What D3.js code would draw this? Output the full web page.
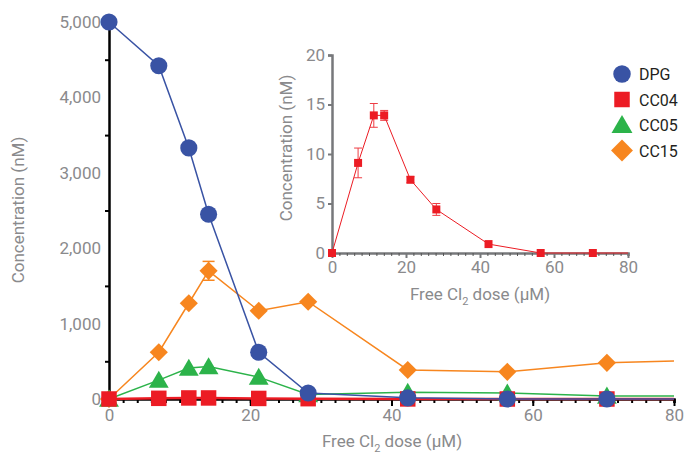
<!DOCTYPE html>
<html>
<head>
<meta charset="utf-8">
<script src="https://cdn.jsdelivr.net/npm/d3@7"></script>
<style>
  body { margin: 0; background: #fff; }
  text { font-family: Roboto, "Open Sans", sans-serif; }
</style>
</head>
<body>
<div id="chart"></div>
<script>
// doses in µM (last one falls outside the axis and is clipped)
var doses = [0, 7.05, 11.3, 14.1, 21.2, 28.2, 42.3, 56.4, 70.5, 84.6];

var dpgValues  = [5000, 4420, 3330, 2450, 620, 80, 15, 0, 0, 0];
var cc04Values = [0, 9.1, 13.9, 13.9, 7.4, 4.4, 0.9, 0, 0, 0];
var cc05Values = [0, 250, 410, 430, 290, 60, 90, 80, 40, 40];
var cc15Values = [0, 620, 1270, 1700, 1170, 1290, 385, 360, 480, 517];

var cc15Err = [0, 30, 40, 125, 40, 40, 30, 30, 30, 0];
var cc04Err = [0, 1.5, 1.2, 0.5, 0.3, 0.6, 0.15, 0, 0, 0];

var seriesNames = ["DPG", "CC04", "CC05", "CC15"];
var mainTicksY = [0, 1000, 2000, 3000, 4000, 5000];
var mainTicksX = [0, 20, 40, 60, 80];
var insetTicksY = [0, 5, 10, 15, 20];

var W = 686, H = 457;
var colors = { DPG: "#3953a4", CC04: "#ec1c24", CC05: "#2cb34a", CC15: "#f7861f" };
var shapes = { DPG: d3.symbolCircle, CC04: d3.symbolSquare, CC05: d3.symbolTriangle, CC15: d3.symbolSquare };
var rotate = { CC15: 45 };
var tickGrey = "#8a8a8c";

var svg = d3.select("#chart").append("svg")
  .attr("width", W).attr("height", H);

// ---------- main chart ----------
var x = d3.scaleLinear().domain([0, 80]).range([109, 674]);
var y = d3.scaleLinear().domain([0, 5000]).range([399, 22]);

svg.append("clipPath").attr("id", "mainClip")
  .append("rect").attr("x", 90).attr("y", 0).attr("width", 584).attr("height", 420);

// axes
var gx = svg.append("g").attr("transform", "translate(0,399)");
gx.call(d3.axisBottom(x).tickValues(d3.range(0, 81, 2)).tickSize(4).tickFormat(""));
gx.call(function(g) {
  g.selectAll(".tick line").attr("stroke", "#000").attr("stroke-width", 2);
  g.select(".domain").attr("stroke", "#000").attr("stroke-width", 2.5);
});
var gx2 = svg.append("g").attr("transform", "translate(0,399)");
gx2.call(d3.axisBottom(x).tickValues(mainTicksX).tickSize(7).tickPadding(3));
gx2.select(".domain").remove();
gx2.selectAll(".tick line").attr("stroke", "#000").attr("stroke-width", 2);
gx2.selectAll(".tick text").attr("fill", tickGrey).style("font-size", "17px");

var gy = svg.append("g").attr("transform", "translate(109,0)");
gy.call(d3.axisLeft(y).tickValues(d3.range(500, 5000, 1000)).tickSize(4).tickFormat(""));
gy.select(".domain").attr("stroke", "#000").attr("stroke-width", 2.5);
gy.selectAll(".tick line").attr("stroke", "#000").attr("stroke-width", 2);
var gy2 = svg.append("g").attr("transform", "translate(109,0)");
gy2.call(d3.axisLeft(y).tickValues(mainTicksY).tickSize(0).tickPadding(8).tickFormat(d3.format(",")));
gy2.select(".domain").remove();
gy2.selectAll(".tick text").attr("fill", tickGrey).style("font-size", "17px");

svg.append("text")
  .attr("transform", "translate(24,210) rotate(-90)")
  .attr("text-anchor", "middle")
  .attr("fill", tickGrey).style("font-size", "17px")
  .text("Concentration (nM)");

function doseTitle(g, cx, cy) {
  var t = g.append("text").attr("x", cx).attr("y", cy)
    .attr("text-anchor", "middle").attr("fill", tickGrey).style("font-size", "17px");
  t.append("tspan").text("Free Cl");
  t.append("tspan").attr("dy", 5).style("font-size", "11px").text("2");
  t.append("tspan").attr("dy", -5).text(" dose (µM)");
}
doseTitle(svg, 392, 447);

var mainData = { DPG: dpgValues, CC04: cc04Values, CC05: cc05Values, CC15: cc15Values };
var errs = { CC15: cc15Err };

var plot = svg.append("g").attr("clip-path", "url(#mainClip)");
var line = d3.line().x(function(d) { return x(d[0]); }).y(function(d) { return y(d[1]); });
var markSize = { DPG: 230, CC04: 240, CC05: 170, CC15: 165 };

["CC15", "CC05", "CC04", "DPG"].forEach(function(name) {
  var pts = doses.map(function(d, i) { return [d, mainData[name][i], errs[name] ? errs[name][i] : 0]; });
  plot.append("path").datum(pts)
    .attr("d", line).attr("fill", "none")
    .attr("stroke", colors[name]).attr("stroke-width", name == "CC04" ? 2.5 : 1.5);
  if (errs[name]) {
    var eb = plot.append("g").selectAll("g").data(pts.filter(function(p) { return y(p[1] - p[2]) - y(p[1] + p[2]) > 14; }))
      .enter().append("g").attr("stroke", colors[name]).attr("stroke-width", 1.5);
    eb.append("line").attr("x1", function(p) { return x(p[0]); }).attr("x2", function(p) { return x(p[0]); })
      .attr("y1", function(p) { return y(p[1] - p[2]); }).attr("y2", function(p) { return y(p[1] + p[2]); });
    [-1, 1].forEach(function(s) {
      eb.append("line").attr("x1", function(p) { return x(p[0]) - 6; }).attr("x2", function(p) { return x(p[0]) + 6; })
        .attr("y1", function(p) { return y(p[1] + s * p[2]); }).attr("y2", function(p) { return y(p[1] + s * p[2]); });
    });
  }
  plot.append("g").selectAll("path").data(pts.slice(0, 9)).enter().append("path")
    .attr("transform", function(p) {
      return "translate(" + x(p[0]) + "," + (y(p[1]) + (name == "CC05" ? 2 : 0)) + ")" +
        (rotate[name] ? " rotate(" + rotate[name] + ")" : "");
    })
    .attr("d", d3.symbol().type(shapes[name]).size(markSize[name]))
    .attr("fill", colors[name]);
});

// ---------- inset ----------
var ix = d3.scaleLinear().domain([0, 80]).range([332, 628]);
var iy = d3.scaleLinear().domain([0, 20]).range([253, 55]);
var insetGrey = "#77787b";

svg.append("clipPath").attr("id", "insetClip")
  .append("rect").attr("x", 320).attr("y", 40).attr("width", 308).attr("height", 225);

var igx = svg.append("g").attr("transform", "translate(0,253)");
igx.call(d3.axisBottom(ix).tickValues(d3.range(0, 81, 2)).tickSize(3).tickFormat(""));
igx.select(".domain").attr("stroke", insetGrey).attr("stroke-width", 2.5);
igx.selectAll(".tick line").attr("stroke", "#555").attr("stroke-width", 1);
var igx2 = svg.append("g").attr("transform", "translate(0,253)");
igx2.call(d3.axisBottom(ix).tickValues(mainTicksX).tickSize(5).tickPadding(3));
igx2.select(".domain").remove();
igx2.selectAll(".tick line").attr("stroke", insetGrey).attr("stroke-width", 2);
igx2.selectAll(".tick text").attr("fill", tickGrey).style("font-size", "17px");

var igy = svg.append("g").attr("transform", "translate(332,0)");
igy.call(d3.axisLeft(iy).tickValues(insetTicksY).tickSize(4).tickPadding(3));
igy.select(".domain").attr("stroke", insetGrey).attr("stroke-width", 2.5);
igy.selectAll(".tick line").attr("stroke", insetGrey).attr("stroke-width", 2);
igy.selectAll(".tick text").attr("fill", tickGrey).style("font-size", "17px");

svg.append("text")
  .attr("transform", "translate(292,148) rotate(-90)")
  .attr("text-anchor", "middle")
  .attr("fill", tickGrey).style("font-size", "17px")
  .text("Concentration (nM)");
doseTitle(svg, 480, 300);

var iline = d3.line().x(function(d) { return ix(d[0]); }).y(function(d) { return iy(d[1]); });
var ipts = doses.map(function(d, i) { return [d, cc04Values[i], cc04Err[i]]; });
var iplot = svg.append("g").attr("clip-path", "url(#insetClip)");
iplot.append("path").datum(ipts).attr("d", iline).attr("fill", "none")
  .attr("stroke", colors.CC04).attr("stroke-width", 1);
var ieb = iplot.append("g").selectAll("g").data(ipts.filter(function(p) { return p[2] > 0.2; }))
  .enter().append("g").attr("stroke", colors.CC04).attr("stroke-width", 1).attr("opacity", 0.85);
ieb.append("line").attr("x1", function(p) { return ix(p[0]); }).attr("x2", function(p) { return ix(p[0]); })
  .attr("y1", function(p) { return iy(p[1] - p[2]); }).attr("y2", function(p) { return iy(p[1] + p[2]); });
[-1, 1].forEach(function(s) {
  ieb.append("line").attr("x1", function(p) { return ix(p[0]) - 4; }).attr("x2", function(p) { return ix(p[0]) + 4; })
    .attr("y1", function(p) { return iy(p[1] + s * p[2]); }).attr("y2", function(p) { return iy(p[1] + s * p[2]); });
});
iplot.append("g").selectAll("path").data(ipts.slice(0, 9)).enter().append("path")
  .attr("transform", function(p) { return "translate(" + ix(p[0]) + "," + iy(p[1]) + ")"; })
  .attr("d", d3.symbol().type(d3.symbolSquare).size(64))
  .attr("fill", colors.CC04);

// ---------- legend ----------
var legend = svg.append("g").selectAll("g").data(seriesNames).enter().append("g")
  .attr("transform", function(d, i) { return "translate(622," + (74 + i * 25.5) + ")"; });
legend.append("path")
  .attr("d", function(d) { return d3.symbol().type(shapes[d]).size(d == "CC15" ? 240 : d == "CC05" ? 190 : 240)(); })
  .attr("transform", function(d) { return d == "CC05" ? "translate(0,2)" : rotate[d] ? "rotate(45)" : null; })
  .attr("fill", function(d) { return colors[d]; });
legend.append("text").attr("x", 17).attr("y", 6)
  .attr("fill", "#231f20").style("font-size", "16px")
  .text(function(d) { return d; });
</script>
</body>
</html>
